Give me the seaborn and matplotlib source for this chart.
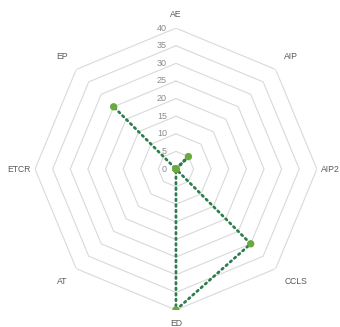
import numpy as np
import pandas as pd
import matplotlib
matplotlib.use('Agg')
import matplotlib.pyplot as plt
import matplotlib.transforms as mtransforms
import seaborn as sns

categories = ['AE', 'AIP', 'AIP2', 'CCLS', 'ED', 'AT', 'ETCR', 'EP']
values = [0, 5, 0, 30, 40, 0, 0, 25]
ring_ticks = [0, 5, 10, 15, 20, 25, 30, 35, 40]

sns.set_style('white')
plt.rcParams['font.family'] = ['Liberation Sans', 'DejaVu Sans']

n = len(categories)
angles = np.linspace(0, 2 * np.pi, n, endpoint=False)
df = pd.DataFrame({'theta': np.append(angles, angles[0]),
                   'r': values + [values[0]]})

fig = plt.figure(figsize=(3.4, 3.27), dpi=100)
ax = fig.add_axes([0.103, 0.052, 0.829, 0.862], projection='polar')
ax.set_theta_zero_location('N')
ax.set_theta_direction(-1)
ax.set_ylim(0, 40)
ax.grid(False)
ax.spines['polar'].set_visible(False)
ax.set_xticks([])
ax.set_yticks([])

# octagon rings
ring_theta = np.append(angles, angles[0])
for t in ring_ticks[1:]:
    ax.plot(ring_theta, [t] * (n + 1), color='#d9d9d9', lw=0.8, zorder=1)

# tick labels, shifted left of the top spoke
tick_tr = mtransforms.offset_copy(ax.transData, fig=fig, x=-9, y=0, units='dots')
for t in ring_ticks:
    ax.text(0, t, str(t), fontsize=6.5, color='#8c8c8c',
            ha='right', va='center', transform=tick_tr)

# category labels just outside the outer ring
for a, c in zip(angles, categories):
    s, co = np.sin(a), np.cos(a)
    ha = 'center' if abs(s) < 0.1 else ('left' if s > 0 else 'right')
    va = 'center' if abs(co) < 0.1 else ('bottom' if co > 0 else 'top')
    if abs(co) > 0.9:
        r = 42.5
    elif abs(s) > 0.9:
        r = 41.2
    else:
        r = 43.5
    ax.text(a, r, c, fontsize=6.2, color='#595959', ha=ha, va=va)

sns.lineplot(data=df, x='theta', y='r', sort=False, ax=ax, color='#2e7d4f',
             lw=2, linestyle=(0, (0.6, 1.4)), dash_capstyle='round', zorder=3)
sns.scatterplot(data=df.iloc[:-1], x='theta', y='r', ax=ax, color='#6aaa3a',
                s=28, edgecolor='none', zorder=4)
ax.set_xlabel('')
ax.set_ylabel('')

fig.savefig('out.png', dpi=100)
